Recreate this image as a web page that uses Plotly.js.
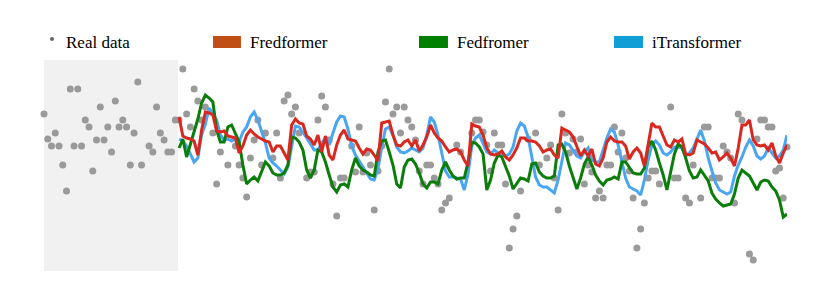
<!DOCTYPE html>
<html>
<head>
<meta charset="utf-8">
<script src="https://cdn.plot.ly/plotly-3.0.1.min.js"></script>
<style>html,body{margin:0;padding:0;background:#fff;}#chart{width:830px;height:283px;}</style>
</head>
<body>
<div id="chart"></div>
<script>
// ---- Data (time index 0..198; look-back window ends at index 35) ----
const seriesNames = ["Real data", "Fredformer", "Fedfromer", "iTransformer"];
const lookbackEnd = 35.7;
const forecastStart = 36;

const realData = [
  4.6, 2.1, 1.4, 2.7, 1.4, -0.5, -3.1, 7.1, 1.4, 7.1,
  1.4, 4.0, 3.3, -1.1, 2.0, 5.3, 2.0, 3.3, 0.8, 5.9,
  3.3, 4.0, 3.3, -0.5, 2.7, 7.8, -0.5, null, 1.4, 0.8,
  5.3, 2.7, 2.0, 0.8, 0.8, 4.0, 4.0, 9.1, 4.6, 3.3,
  7.1, 5.9, 4.0, 5.3, null, 2.7, -2.4, 0.8, null, -0.5,
  null, 1.4, -0.5, -1.8, -3.7, 0.2, 2.0, 4.0, -0.5, 2.7,
  null, 0.2, 2.7, -1.8, 5.9, 6.5, 4.6, 5.3, 2.7, null,
  -1.8, -1.2, -1.2, 4.0, 6.4, 5.3, 2.0, -2.4, -5.6, -1.8,
  -1.8, null, 1.4, -1.2, 3.3, -1.2, 0.7, -0.5, -5.0, -1.1,
  1.4, 5.8, 9.1, 4.6, 5.3, 2.7, 5.3, 4.0, 3.3, 2.0,
  -1.1, -2.4, -0.5, -0.5, -1.8, -2.4, -5.0, -4.3, -3.8, null,
  1.5, 0.8, null, null, 2.7, 4.0, 4.0, 2.8, 1.5, -1.1,
  2.7, 1.5, 1.5, -2.4, -8.8, -6.9, -5.6, -3.1, null, 2.1,
  null, 2.7, -0.5, null, 0.2, 1.5, -1.8, -5.0, 4.6, 2.7,
  0.7, 2.1, 0.8, 2.1, -2.4, -0.5, -1.2, -3.8, -3.1, -3.8,
  -0.5, -0.5, 3.3, 0.8, 2.7, 0.2, -1.1, -3.8, -8.8, -6.9,
  -4.3, -1.8, -1.1, -1.1, -2.4, null, null, 5.3, -1.8, -1.8,
  null, -3.8, -4.3, -0.5, null, -3.8, 3.3, 3.3, -1.8, -1.8,
  -1.8, 1.4, 0.8, 0.2, -4.3, 4.6, 4.0, null, -9.4, -10.0,
  2.1, 4.0, 4.0, 3.3, 3.3, -1.1, -0.8, -3.8, 1.3
];

const fredformer = [
  4.3, 2.4, 2.2, 2.1, 1.9, 0.5, 3.0, 4.8, 4.7, 4.5,
  2.9, 2.8, 2.9, 2.4, 2.3, 2.2, 0.7, 1.4, 2.5, 3.0,
  2.6, 2.3, 2.1, 1.9, 1.8, 0.8, 1.4, 1.4, 0.7, 0.0,
  3.5, 4.1, 3.7, 3.6, 2.4, 2.1, 1.5, 2.5, 0.8, 2.4,
  0.5, 0.0, 1.5, 2.5, 3.0, 2.1, 2.0, 1.9, 1.2, 0.6,
  1.1, 1.0, 0.5, -0.1, 3.7, 3.8, 3.9, 2.5, 1.5, 1.4,
  1.8, 2.0, 1.4, 2.0, 0.9, 1.5, 2.3, 3.5, 2.7, 2.2,
  1.9, 1.3, 0.8, 1.0, 1.1, 0.8, 0.0, -0.6, 3.6, 3.4,
  3.3, 2.5, 1.2, 0.6, 0.5, 0.6, 0.9, 0.3, 0.0, 0.5,
  1.2, 2.2, 2.2, 1.9, 1.9, 1.8, 1.4, 0.8, 1.0, 1.1,
  0.5, 0.2, 3.2, 3.0, 2.8, 2.3, 1.3, 0.4, 1.0, 0.4,
  1.1, -0.4, -0.6, 0.2, 1.8, 2.3, 1.9, 1.8, 1.8, 1.4,
  0.1, 0.8, 1.2, 0.7, -0.6, 1.5, 3.7, 3.3, 3.3, 2.4,
  1.5, 1.3, 2.0, 1.8, 2.1, 0.6, 0.5, 0.7, 2.0, 1.8,
  1.6, 1.2, 0.7, 0.8, 0.0, 0.3, 0.7, 0.2, -0.6, 1.2,
  3.5, 3.5, 4.0, 2.0, 1.5, 1.4, 1.5, 1.0, 1.7, 0.4,
  -0.3, 0.7, 1.5
];

const fedfromer = [
  1.2, 2.1, 0.3, 1.5, 2.9, 4.1, 5.7, 6.5, 6.2, 5.8,
  3.0, 1.8, 1.8, 3.3, 3.5, 2.6, 1.8, -0.5, -2.4, -2.0,
  -1.7, -2.1, -1.2, -0.2, -0.6, -1.3, -1.5, -1.5, -1.3, -0.5,
  2.3, 2.2, 1.8, 1.0, -1.0, -1.8, -1.0, 1.0, 0.8, -0.2,
  -1.5, -2.7, -3.2, -2.5, -2.4, -2.7, -1.0, 0.2, -0.6, -1.0,
  -1.2, -1.5, -1.6, 0.8, 1.9, 2.0, 0.8, -0.5, -2.4, -2.8,
  -0.7, 0.0, 0.1, -0.4, -1.3, -2.4, -2.8, -2.2, -2.2, -2.4,
  -1.0, -0.2, -1.0, -1.6, -1.9, -1.8, -1.8, -0.2, 1.8, 1.7,
  1.3, 0.6, -3.0, -2.0, -0.3, 0.5, 0.3, -0.6, -1.6, -2.9,
  -2.4, -1.8, -1.9, -2.1, -0.4, -0.3, -1.2, -1.6, -1.8, -1.8,
  -1.6, 1.5, 1.6, 0.8, -0.6, -1.8, -2.9, -1.8, -0.4, 0.3,
  -0.5, -1.5, -2.1, -2.5, -2.0, -1.9, -1.7, -1.9, -0.2, -0.2,
  -0.8, -1.3, -1.4, -1.4, -0.8, 1.3, 1.9, 1.0, -0.3, -1.5,
  -3.0, -1.0, 0.6, 1.6, 1.3, 0.2, -1.1, -1.8, -1.7, -1.0,
  -1.5, -2.1, -3.3, -3.9, -4.3, -4.6, -4.5, -4.4, -3.4, -1.8,
  -1.0, -1.3, -1.6, -2.3, -3.0, -2.2, -2.0, -2.1, -2.7, -3.1,
  -4.0, -5.7, -5.4
];

const itransformer = [
  2.1, 1.9, 1.4, 0.6, -0.2, 0.2, 2.5, 3.6, 5.2, 4.6,
  4.0, 2.5, 2.0, 2.1, 1.9, 2.1, 1.8, 2.8, 3.3, 4.3,
  4.8, 4.0, 2.9, 1.7, 0.2, -0.3, -0.6, -1.0, -1.4, -0.7,
  1.5, 3.4, 3.3, 2.8, 2.2, 1.6, 1.0, 1.0, 1.7, 2.2,
  1.5, 2.7, 3.8, 4.4, 4.3, 3.1, 1.4, 0.5, -0.1, -0.7,
  -1.3, -1.9, -2.0, -0.9, 1.3, 3.1, 3.3, 2.5, 1.3, 0.8,
  0.7, 0.9, 1.2, 1.0, 0.8, 1.2, 2.5, 4.3, 3.8, 2.5,
  0.5, -1.1, -1.7, -1.7, -1.8, -1.9, -3.0, -1.4, 1.4, 2.2,
  2.5, 1.6, 0.8, 0.6, 1.0, 0.7, 0.5, 0.4, 0.6, 1.3,
  2.9, 3.7, 3.4, 2.3, 0.4, -1.7, -2.5, -2.7, -2.7, -3.0,
  -3.3, -2.0, 0.0, 1.7, 1.5, 1.0, 0.4, 0.2, 0.8, 1.2,
  0.0, -0.2, -0.2, 1.0, 2.2, 3.1, 2.8, 1.5, 0.0, -1.8,
  -2.7, -2.9, -3.1, -3.5, -2.0, 0.0, 1.5, 1.9, 1.5, 0.7,
  0.5, 0.8, 1.3, 1.3, 1.2, 0.4, 0.7, 1.2, 2.1, 3.0,
  1.9, 0.2, -1.1, -2.3, -3.0, -3.2, -3.4, -3.2, -1.6, -0.5,
  0.3, 1.3, 2.0, 1.4, 0.4, 0.1, 0.4, 1.2, 0.7, 0.2,
  0.4, 1.0, 2.5
];

// ---- Build traces ----
const realX = realData.map((_, i) => i);
const predX = fredformer.map((_, k) => k + forecastStart);

const COL = {
  dot: "#9a9a9a",
  fredLine: "#d9281f", fredKey: "#C04F15",
  fedLine: "#0b7d0b", fedKey: "#008000",
  itLine: "#4ba6f2", itKey: "#0F9ED5"
};

const traces = [
  { x: realX, y: realData, type: "scatter", mode: "markers", name: seriesNames[0],
    marker: { color: COL.dot, size: 7 }, cliponaxis: false, hoverinfo: "skip" },
  { x: predX, y: itransformer, type: "scatter", mode: "lines", name: seriesNames[3],
    line: { color: COL.itLine, width: 3 } },
  { x: predX, y: fedfromer, type: "scatter", mode: "lines", name: seriesNames[2],
    line: { color: COL.fedLine, width: 3 } },
  { x: predX, y: fredformer, type: "scatter", mode: "lines", name: seriesNames[1],
    line: { color: COL.fredLine, width: 3 } }
];

// ---- Custom legend (rectangle keys as in the reference) ----
const legendFont = { family: "Liberation Serif", size: 17, color: "#000000" };
const keyY0 = 1.057, keyY1 = 1.114, textY = 1.085;
const legendItems = [
  { name: seriesNames[1], color: COL.fredKey, x0: 0.2275, x1: 0.2651, tx: 0.2746 },
  { name: seriesNames[2], color: COL.fedKey, x0: 0.5047, x1: 0.5437, tx: 0.5532 },
  { name: seriesNames[3], color: COL.itKey, x0: 0.7672, x1: 0.8062, tx: 0.8156 }
];

const shapes = [
  { type: "rect", xref: "x", yref: "paper", x0: 0, x1: lookbackEnd, y0: 0, y1: 1,
    fillcolor: "#f1f1f1", line: { width: 0 }, layer: "below" },
  { type: "circle", xref: "paper", yref: "paper", x0: 0.0081, x1: 0.0135, y0: 1.090, y1: 1.109,
    fillcolor: "#666666", line: { width: 0 } }
];
const annotations = [
  { xref: "paper", yref: "paper", x: 0.0270, y: textY, xanchor: "left", yanchor: "middle",
    text: seriesNames[0], showarrow: false, font: legendFont }
];
legendItems.forEach(it => {
  shapes.push({ type: "rect", xref: "paper", yref: "paper", x0: it.x0, x1: it.x1,
    y0: keyY0, y1: keyY1, fillcolor: it.color, line: { width: 0 } });
  annotations.push({ xref: "paper", yref: "paper", x: it.tx, y: textY, xanchor: "left",
    yanchor: "middle", text: it.name, showarrow: false, font: legendFont });
});

const layout = {
  width: 830, height: 283,
  margin: { l: 44, r: 43, t: 60, b: 12, pad: 0 },
  paper_bgcolor: "#ffffff", plot_bgcolor: "rgba(0,0,0,0)",
  showlegend: false,
  font: { family: "Liberation Serif" },
  xaxis: { range: [0, 198], visible: false, fixedrange: true },
  yaxis: { range: [-11.1, 10], visible: false, fixedrange: true },
  shapes: shapes,
  annotations: annotations
};

Plotly.newPlot("chart", traces, layout, { displayModeBar: false, staticPlot: true });
</script>
</body>
</html>
